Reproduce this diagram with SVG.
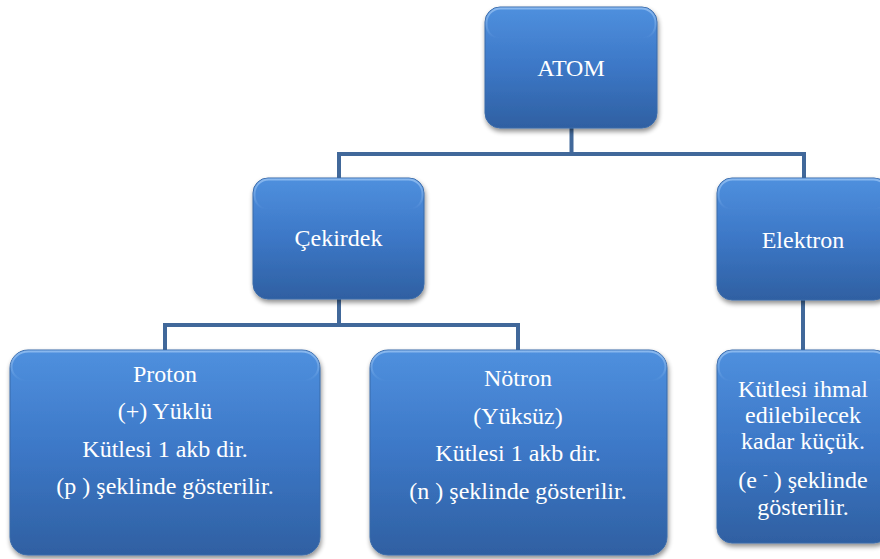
<svg xmlns="http://www.w3.org/2000/svg" width="880" height="559" viewBox="0 0 880 559">
<defs>
<linearGradient id="g" x1="0" y1="0" x2="0" y2="1">
<stop offset="0" stop-color="#4f90de"/>
<stop offset="0.5" stop-color="#3c77c6"/>
<stop offset="1" stop-color="#2f60a2"/>
</linearGradient>
<linearGradient id="hl" x1="0" y1="0" x2="0" y2="1">
<stop offset="0" stop-color="#8fbcf0" stop-opacity="0.9"/>
<stop offset="1" stop-color="#8fbcf0" stop-opacity="0"/>
</linearGradient>
<filter id="sh" x="-10%" y="-10%" width="125%" height="130%">
<feGaussianBlur in="SourceAlpha" stdDeviation="2.5"/>
<feOffset dx="1" dy="3" result="b"/>
<feComponentTransfer><feFuncA type="linear" slope="0.45"/></feComponentTransfer>
<feMerge><feMergeNode/><feMergeNode in="SourceGraphic"/></feMerge>
</filter>
</defs>
<style>
.box{fill:url(#g);stroke:#3a6aa8;stroke-width:1;filter:url(#sh)}
.hi{fill:none;stroke:url(#hl);stroke-width:2}
.t{font-family:'Liberation Serif','DejaVu Serif',serif;font-size:24px;fill:#ffffff;text-anchor:middle}
.c{fill:none;stroke:#41689a;stroke-width:4}
</style>
<g id="connectors">
<path class="c" d="M571.5 128 V154 M339 178 V154 H804 V178"/>
<path class="c" d="M339 299 V325 M165 350 V325 H518 V350"/>
<path class="c" d="M803 300 V350"/>
</g>
<g id="atom">
<rect class="box" x="485" y="7" width="172" height="121" rx="15"/>
<rect class="hi" x="486.5" y="8.5" width="169" height="30" rx="14"/>
<text class="t" x="571" y="76">ATOM</text>
</g>
<g id="cekirdek">
<rect class="box" x="253" y="178" width="171" height="121" rx="15"/>
<rect class="hi" x="254.5" y="179.5" width="168" height="30" rx="14"/>
<text class="t" x="338.5" y="246">Çekirdek</text>
</g>
<g id="elektron">
<rect class="box" x="717" y="178" width="172" height="122" rx="15"/>
<rect class="hi" x="718.5" y="179.5" width="169" height="30" rx="14"/>
<text class="t" x="803" y="248">Elektron</text>
</g>
<g id="proton">
<rect class="box" x="10" y="350" width="310" height="205" rx="18"/>
<rect class="hi" x="11.5" y="351.5" width="307" height="30" rx="17"/>
<text class="t" x="165" y="382">Proton</text>
<text class="t" x="165" y="419">(+) Yüklü</text>
<text class="t" x="165" y="457">Kütlesi 1 akb dir.</text>
<text class="t" x="165" y="494">(p ) şeklinde gösterilir.</text>
</g>
<g id="notron">
<rect class="box" x="370" y="350" width="297" height="205" rx="18"/>
<rect class="hi" x="371.5" y="351.5" width="294" height="30" rx="17"/>
<text class="t" x="518" y="386">Nötron</text>
<text class="t" x="518" y="424">(Yüksüz)</text>
<text class="t" x="518" y="461">Kütlesi 1 akb dir.</text>
<text class="t" x="518" y="499">(n ) şeklinde gösterilir.</text>
</g>
<g id="elektron-bilgi">
<rect class="box" x="717" y="350" width="172" height="193" rx="15"/>
<rect class="hi" x="718.5" y="351.5" width="169" height="30" rx="14"/>
<text class="t" x="803" y="397">Kütlesi ihmal</text>
<text class="t" x="803" y="423">edilebilecek</text>
<text class="t" x="803" y="449">kadar küçük.</text>
<text class="t" x="803" y="488">(e <tspan font-size="14" dy="-9">-</tspan><tspan dy="9"> ) şeklinde</tspan></text>
<text class="t" x="803" y="515">gösterilir.</text>
</g>
</svg>
